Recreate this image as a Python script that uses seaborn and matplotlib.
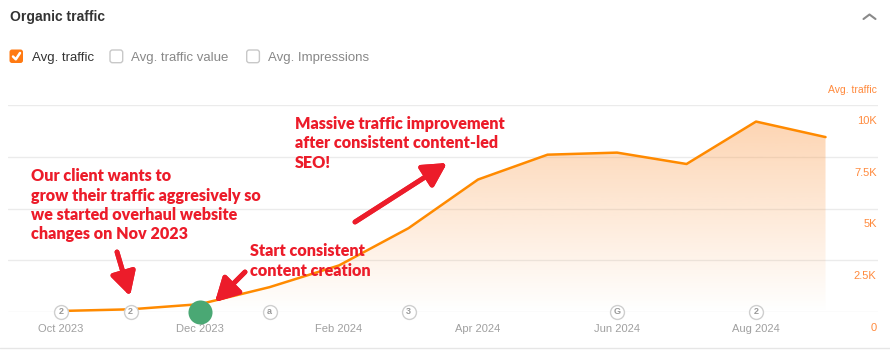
import numpy as np
import pandas as pd
import matplotlib.pyplot as plt
import seaborn as sns
from matplotlib.patches import FancyBboxPatch
from matplotlib.lines import Line2D
from matplotlib.transforms import IdentityTransform
from matplotlib.colors import to_rgb

# data
months = ['Oct 2023', 'Nov 2023', 'Dec 2023', 'Jan 2024', 'Feb 2024', 'Mar 2024',
          'Apr 2024', 'May 2024', 'Jun 2024', 'Jul 2024', 'Aug 2024', 'Sep 2024']
traffic = [50, 130, 380, 1200, 2250, 4050, 6400, 7600, 7700, 7150, 9200, 8450]
tick_months = ['Oct 2023', 'Dec 2023', 'Feb 2024', 'Apr 2024', 'Jun 2024', 'Aug 2024']
y_ticks = [0, 2500, 5000, 7500, 10000]
y_tick_labels = ['0', '2.5K', '5K', '7.5K', '10K']
event_months = ['Oct 2023', 'Nov 2023', 'Jan 2024', 'Mar 2024', 'Jun 2024', 'Aug 2024']
event_labels = ['2', '2', 'a', '3', 'G', '2']
highlight_month = 'Dec 2023'

note_client = ['Our client wants to', 'grow their traffic aggresively so',
               'we started overhaul website', 'changes on Nov 2023']
note_content = ['Start consistent', 'content creation']
note_seo = ['Massive traffic improvement', 'after consistent content-led', 'SEO!']

W, H = 890, 352
ORANGE = '#ff8a00'
LABEL_ORANGE = '#ff8a3d'
RED = '#ec1c2a'
GREY = '#a0a0a0'
UI = 'Liberation Sans'
NOTE = 'Lato'

df = pd.DataFrame({'month': months, 'traffic': traffic})
df['idx'] = np.arange(len(df))
pos = {m: i for i, m in enumerate(months)}

sns.set_style('white')
plt.rcParams['font.family'] = [UI, 'DejaVu Sans']

fig = plt.figure(figsize=(W / 100, H / 100), dpi=100)
ax = fig.add_axes([8 / W, (H - 312) / H, 870 / W, 207 / H])

# gradient area under the line
rgb = to_rgb('#fb9a48')
grad = np.zeros((256, 1, 4))
grad[..., :3] = rgb
grad[..., 3] = np.linspace(0.45, 0.0, 256)[:, None]
im = ax.imshow(grad, extent=[0, len(months) - 1, 0, 10000], aspect='auto',
               origin='upper', zorder=1)
poly = ax.fill_between(df['idx'], df['traffic'], 0, facecolor='none', edgecolor='none')
im.set_clip_path(poly.get_paths()[0], transform=ax.transData)

sns.lineplot(data=df, x='idx', y='traffic', color=ORANGE, linewidth=1.8, ax=ax, zorder=3)

ax.set_xlim(-0.763, 11.755)
ax.set_ylim(0, 10000)
ax.set_xlabel('')
ax.set_ylabel('')
sns.despine(ax=ax, left=True, bottom=True)

ax.set_yticks(y_ticks)
ax.tick_params(axis='y', left=False, labelleft=False)
ax.grid(axis='y', color='#ebebeb', linewidth=1)
ax.set_xticks([pos[m] for m in tick_months], tick_months)
ax.tick_params(axis='x', bottom=False, pad=5, labelsize=8, labelcolor=GREY)

# y labels sit inside the plot, just under each gridline
for v, lab in zip(y_ticks, y_tick_labels):
    ax.annotate(lab, xy=(1, v), xycoords=('axes fraction', 'data'),
                xytext=(-1, -11.5), textcoords='offset points',
                ha='right', va='center', fontsize=8, color=LABEL_ORANGE)

# event markers along the baseline
ex = [pos[m] for m in event_months]
ax.scatter(ex, [0] * len(ex), s=100, facecolor='white', edgecolor='#cfcfcf',
           linewidth=1, zorder=4, clip_on=False)
for x, lab in zip(ex, event_labels):
    ax.text(x, 0, lab, ha='center', va='center', fontsize=6.5, color='#999999',
            fontweight='bold', zorder=5, clip_on=False)

ax.scatter([pos[highlight_month]], [0], s=300, color='#4aa874', zorder=6,
           clip_on=False, linewidth=0)


def fp(x, y):
    return (x / W, 1 - y / H)


# header
fig.text(*fp(10, 21), 'Organic traffic', fontsize=10, fontweight='bold',
         color='#333333', va='baseline')
fig.add_artist(Line2D([863.5 / W, 869.5 / W, 875.5 / W],
                      [1 - 19 / H, 1 - 14.5 / H, 1 - 19 / H],
                      color='#8a8a8a', linewidth=1.5))

# checkboxes
fig.add_artist(FancyBboxPatch((9.5, H - 63), 13.5, 13.5,
                              boxstyle='round,pad=0,rounding_size=2.5',
                              facecolor='#ff7a12', edgecolor='none',
                              transform=IdentityTransform()))
fig.add_artist(Line2D([13 / W, 15.8 / W, 20 / W],
                      [1 - 56.5 / H, 1 - 59.3 / H, 1 - 53 / H],
                      color='white', linewidth=1.8))
for bx in [110, 246.7]:
    fig.add_artist(FancyBboxPatch((bx, H - 62.7), 12.7, 12.7,
                                  boxstyle='round,pad=0,rounding_size=2.5',
                                  facecolor='white', edgecolor='#c8c8c8', linewidth=1,
                                  transform=IdentityTransform()))
fig.text(*fp(31.7, 61), 'Avg. traffic', fontsize=9.5, color='#333333', va='baseline')
fig.text(*fp(131, 61), 'Avg. traffic value', fontsize=9.5, color='#888888', va='baseline')
fig.text(*fp(267.7, 61), 'Avg. Impressions', fontsize=9.5, color='#888888', va='baseline')
fig.text(*fp(877, 90), 'Avg. traffic', fontsize=7.5, color=LABEL_ORANGE,
         ha='right', va='center')

fig.add_artist(Line2D([0, 1], [1 - 348 / H] * 2, color='#e6e6e6', linewidth=1))


# red notes
def note(lines, x, y0, step):
    for i, line in enumerate(lines):
        fig.text(*fp(x, y0 + i * step), line, fontsize=11.6, fontweight='heavy',
                 color=RED, family=NOTE, va='baseline')


note(note_client, 31, 181, 19.5)
note(note_content, 250, 256, 20)
note(note_seo, 295, 129, 19.5)

arrow_style = dict(arrowstyle='-|>,head_length=0.7,head_width=0.38', color=RED,
                   lw=3.5, mutation_scale=20, shrinkA=0, shrinkB=0, capstyle='round')
for (x0, y0), (x1, y1) in [((117, 252), (130, 296)),
                           ((245, 272), (215, 302)),
                           ((355, 222), (447, 163))]:
    fig.add_artist(plt.annotate('', xy=fp(x1, y1), xycoords='figure fraction',
                                xytext=fp(x0, y0), textcoords='figure fraction',
                                arrowprops=arrow_style))

fig.savefig('out.png', dpi=100)
